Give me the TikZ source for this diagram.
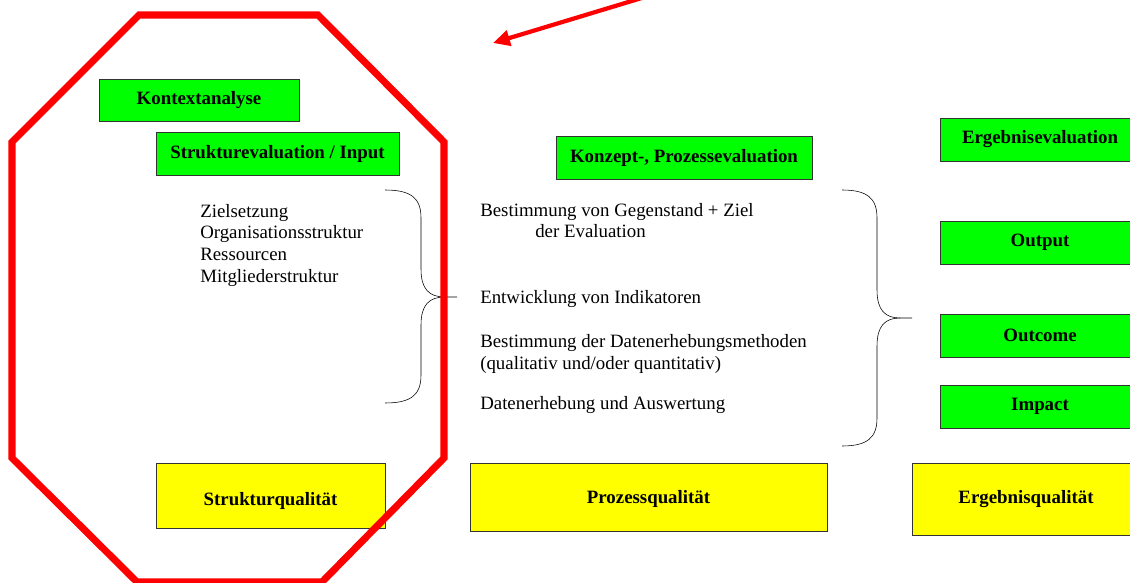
\documentclass[tikz,border=0pt]{standalone}
\usepackage{fontspec}
\setmainfont{Liberation Serif}
\usetikzlibrary{arrows.meta}
\definecolor{boxgreen}{RGB}{0,255,0}
\definecolor{boxyellow}{RGB}{255,255,0}
\definecolor{markred}{RGB}{255,0,0}

\begin{document}
\begin{tikzpicture}[x=0.025cm, y=-0.025cm,
    every node/.style={font=\fontsize{13.4}{15.4}\selectfont},
    greenbox/.style={draw=black!80, fill=boxgreen, inner sep=0pt, outer sep=0pt,
      font=\fontsize{13.4}{15.4}\selectfont\bfseries},
    yellowbox/.style={draw=black!80, fill=boxyellow, inner sep=0pt, outer sep=0pt,
      font=\fontsize{13.4}{15.4}\selectfont\bfseries},
    item/.style={anchor=base west, align=left, inner sep=0pt}]
    \clip (0,0) rectangle (1130,583);

    % Evaluationsbereiche
    \node[greenbox, minimum width=5cm, minimum height=1.05cm] (kontext) at (199,100) {Kontextanalyse};
    \node[greenbox, minimum width=6.075cm, minimum height=1.075cm] (struktur) at (277.5,153.5) {Strukturevaluation / Input};
    \node[greenbox, minimum width=6.4cm, minimum height=1.075cm] (konzept) at (684,157.5) {Konzept-, Prozessevaluation};
    \node[greenbox, minimum width=4.975cm, minimum height=1.075cm] (ergebnis) at (1040,139.5) {Ergebnisevaluation};
    \node[greenbox, minimum width=4.975cm, minimum height=1.075cm] (output) at (1040,242.5) {Output};
    \node[greenbox, minimum width=4.975cm, minimum height=1.075cm] (outcome) at (1040,335.5) {Outcome};
    \node[greenbox, minimum width=4.975cm, minimum height=1.075cm] (impact) at (1040,406.5) {Impact};

    % Qualitaeten
    \node[yellowbox, minimum width=5.725cm, minimum height=1.625cm, text height=17pt] (sq) at (270.5,495.5) {Strukturqualität};
    \node[yellowbox, minimum width=8.925cm, minimum height=1.7cm, text height=12pt] (pq) at (648.5,497) {Prozessqualität};
    \node[yellowbox, minimum width=5.7cm, minimum height=1.8cm] (eq) at (1026,499) {Ergebnisqualität};

    % Texte (Grundlinie der letzten Zeile)
    \node[item] (ziele) at (200,282) {Zielsetzung\\Organisationsstruktur\\Ressourcen\\Mitgliederstruktur};
    \node[item] (gegenstand) at (480,238) {Bestimmung von Gegenstand + Ziel\\\hspace{1.375cm}der Evaluation};
    \node[item] (indikatoren) at (480,304) {Entwicklung von Indikatoren};
    \node[item] (methoden) at (480,369) {Bestimmung der Datenerhebungsmethoden\\(qualitativ und/oder quantitativ)};
    \node[item] (auswertung) at (480,409) {Datenerhebung und Auswertung};

    % Klammern
    \foreach \xa/\xb/\xc/\ya/\ym/\yb in {385/421/457/190/297/403, 842/877/912/190/318/446} {
      \draw[thin, black] (\xa,\ya) .. controls ({\xb-10},\ya) and (\xb,{\ya+8}) .. (\xb,{\ya+28})
        -- (\xb,{\ym-28}) .. controls (\xb,{\ym-8}) and ({\xb+8},\ym) .. ({\xc-12},\ym) -- (\xc,\ym);
      \draw[thin, black] ({\xc-12},\ym) .. controls ({\xb+8},\ym) and (\xb,{\ym+8}) .. (\xb,{\ym+28})
        -- (\xb,{\yb-28}) .. controls (\xb,{\yb-8}) and ({\xb-10},\yb) .. (\xa,\yb);
    }

    % Markierung
    \draw[markred, line width=5pt, line join=miter] (139,15) -- (318,15) -- (444,142) -- (444,458)
      -- (322,582) -- (137,582) -- (12,458) -- (12,142) -- cycle;
    \draw[markred, line width=3pt, -{Triangle[length=12pt, width=11pt]}] (645,-3) -- (493,43);
\end{tikzpicture}
\end{document}
